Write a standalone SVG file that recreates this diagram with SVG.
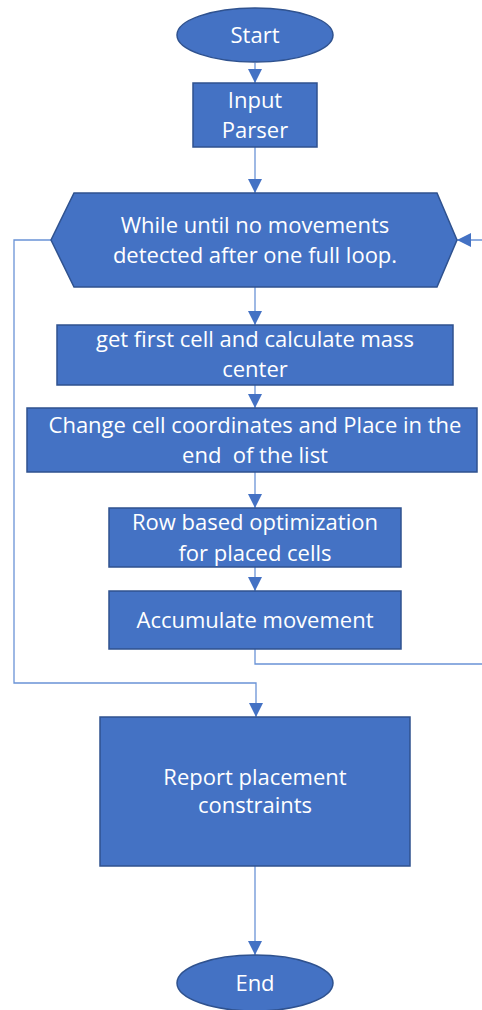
<svg xmlns="http://www.w3.org/2000/svg" width="482" height="1010" viewBox="0 0 482 1010">
<style>
.shape{fill:#4472C4;stroke:#2F528F;stroke-width:1.5}
.lbl{font-family:"Open Sans","Liberation Sans",sans-serif;font-size:22px;fill:#FFFFFF;text-anchor:middle;white-space:pre}
.conn{fill:none;stroke:#6A93D6;stroke-width:1.3}
</style>
<defs>
<marker id="arr" markerUnits="userSpaceOnUse" markerWidth="14" markerHeight="14" viewBox="0 0 12 12" refX="12" refY="6" orient="auto">
<path d="M0,0 L12,6 L0,12 z" fill="#4472C4"/>
</marker>
</defs>
<rect width="482" height="1010" fill="#FFFFFF"/>
<g id="connectors">
<path class="conn" d="M255,63 V83" marker-end="url(#arr)"/>
<path class="conn" d="M255,147 V193" marker-end="url(#arr)"/>
<path class="conn" d="M255,287 V325" marker-end="url(#arr)"/>
<path class="conn" d="M255,385 V408" marker-end="url(#arr)"/>
<path class="conn" d="M255,472 V508" marker-end="url(#arr)"/>
<path class="conn" d="M255,567 V591" marker-end="url(#arr)"/>
<path class="conn" d="M255,649 V664 H483 V240 H457" marker-end="url(#arr)"/>
<path class="conn" d="M51,240 H14 V683 H256 V717" marker-end="url(#arr)"/>
<path class="conn" d="M255,866 V955" marker-end="url(#arr)"/>
</g>
<g id="start">
<ellipse class="shape" cx="255" cy="35" rx="78" ry="27"/>
<text class="lbl" x="255" y="43">Start</text>
</g>
<g id="input-parser">
<rect class="shape" x="193" y="83" width="124" height="64"/>
<text class="lbl" x="255" y="108">Input</text>
<text class="lbl" x="255" y="138">Parser</text>
</g>
<g id="while-loop">
<polygon class="shape" points="74,193 437,193 457,240 437,287 74,287 51,240"/>
<text class="lbl" x="255" y="233">While until no movements</text>
<text class="lbl" x="255" y="263">detected after one full loop.</text>
</g>
<g id="get-first-cell">
<rect class="shape" x="57" y="325" width="396" height="60"/>
<text class="lbl" x="255" y="347">get first cell and calculate mass</text>
<text class="lbl" x="255" y="377">center</text>
</g>
<g id="change-coords">
<rect class="shape" x="27" y="408" width="450" height="64"/>
<text class="lbl" x="255" y="433">Change cell coordinates and Place in the</text>
<text class="lbl" x="255" y="463" xml:space="preserve">end  of the list</text>
</g>
<g id="row-opt">
<rect class="shape" x="109" y="508" width="292" height="59"/>
<text class="lbl" x="255" y="530">Row based optimization</text>
<text class="lbl" x="255" y="561">for placed cells</text>
</g>
<g id="accumulate">
<rect class="shape" x="109" y="591" width="292" height="58"/>
<text class="lbl" x="255" y="628">Accumulate movement</text>
</g>
<g id="report">
<rect class="shape" x="100" y="717" width="310" height="149"/>
<text class="lbl" x="255" y="785">Report placement</text>
<text class="lbl" x="255" y="813">constraints</text>
</g>
<g id="end">
<ellipse class="shape" cx="255" cy="983" rx="78" ry="28"/>
<text class="lbl" x="255" y="991">End</text>
</g>
</svg>
